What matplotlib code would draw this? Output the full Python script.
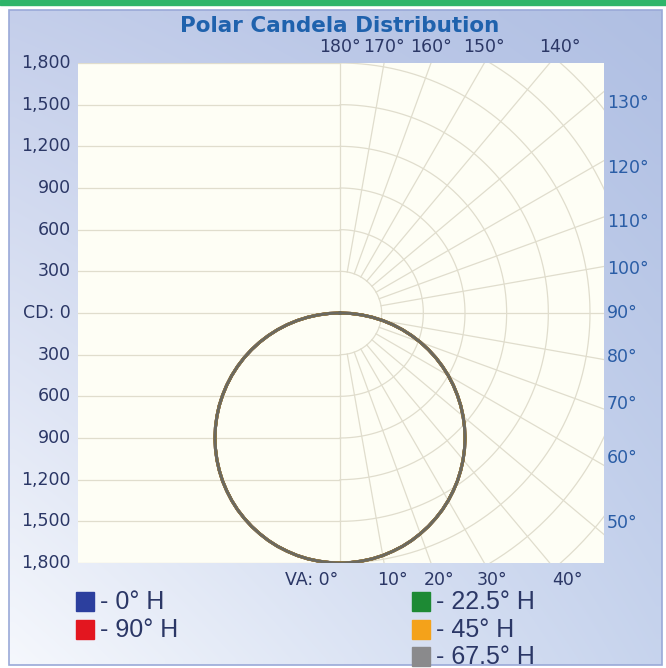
import numpy as np
import matplotlib
matplotlib.use("Agg")
import matplotlib.pyplot as plt
from matplotlib.patches import Rectangle

# ---------------- data ----------------
vertical_angles = [0, 2.5, 5, 7.5, 10, 12.5, 15, 17.5, 20, 22.5, 25, 27.5, 30, 32.5, 35, 37.5,
                   40, 42.5, 45, 47.5, 50, 52.5, 55, 57.5, 60, 62.5, 65, 67.5, 70, 72.5, 75,
                   77.5, 80, 82.5, 85, 87.5, 90, 100, 110, 120, 130, 140, 150, 160, 170, 180]
cd_0H = [1800, 1798, 1793, 1785, 1773, 1757, 1739, 1717, 1691, 1663, 1631, 1597, 1559, 1518,
         1475, 1428, 1379, 1327, 1273, 1216, 1157, 1096, 1032, 967, 900, 831, 761, 689, 616,
         541, 466, 390, 313, 235, 157, 79, 0, 0, 0, 0, 0, 0, 0, 0, 0, 0]
cd_22_5H = [1800, 1798, 1793, 1785, 1773, 1757, 1739, 1717, 1691, 1663, 1631, 1597, 1559, 1518,
            1475, 1428, 1379, 1327, 1273, 1216, 1157, 1096, 1032, 967, 900, 831, 761, 689, 616,
            541, 466, 390, 313, 235, 157, 79, 0, 0, 0, 0, 0, 0, 0, 0, 0, 0]
cd_45H = [1800, 1798, 1793, 1785, 1773, 1757, 1739, 1717, 1691, 1663, 1631, 1597, 1559, 1518,
          1475, 1428, 1379, 1327, 1273, 1216, 1157, 1096, 1032, 967, 900, 831, 761, 689, 616,
          541, 466, 390, 313, 235, 157, 79, 0, 0, 0, 0, 0, 0, 0, 0, 0, 0]
cd_67_5H = [1800, 1798, 1793, 1785, 1773, 1757, 1739, 1717, 1691, 1663, 1631, 1597, 1559, 1518,
            1475, 1428, 1379, 1327, 1273, 1216, 1157, 1096, 1032, 967, 900, 831, 761, 689, 616,
            541, 466, 390, 313, 235, 157, 79, 0, 0, 0, 0, 0, 0, 0, 0, 0, 0]
cd_90H = [1800, 1798, 1793, 1785, 1773, 1757, 1739, 1717, 1691, 1663, 1631, 1597, 1559, 1518,
          1475, 1428, 1379, 1327, 1273, 1216, 1157, 1096, 1032, 967, 900, 831, 761, 689, 616,
          541, 466, 390, 313, 235, 157, 79, 0, 0, 0, 0, 0, 0, 0, 0, 0, 0]

series_labels = ["- 0° H", "- 90° H", "- 22.5° H", "- 45° H", "- 67.5° H"]
series_values = [cd_0H, cd_90H, cd_22_5H, cd_45H, cd_67_5H]
series_colors = ["#2c3f9e", "#e3161f", "#1d8a34", "#f4a21a", "#8a8a8c"]
line_colors = ["#2c3f9e", "#e3161f", "#1d8a34", "#f4a21a", "#6b6960"]

cd_ticks = [1800, 1500, 1200, 900, 600, 300, 0, 300, 600, 900, 1200, 1500, 1800]
cd_tick_values = [1800, 1500, 1200, 900, 600, 300, 0, -300, -600, -900, -1200, -1500, -1800]
right_angle_labels = [130, 120, 110, 100, 90, 80, 70, 60, 50]
top_angle_labels = [180, 170, 160, 150, 140]
bottom_angle_labels = [10, 20, 30, 40]

# ---------------- figure ----------------
W, H = 666, 668
fig = plt.figure(figsize=(W / 100, H / 100), dpi=100)

bg = fig.add_axes([0, 0, 1, 1])
bg.set_xlim(0, W)
bg.set_ylim(H, 0)
bg.axis("off")

bg.add_patch(Rectangle((0, 0), W, 5, color="#2fb56a", zorder=1))
tl = np.array([0.77, 0.81, 0.92])
tr = np.array([0.69, 0.75, 0.89])
bl = np.array([0.96, 0.97, 0.99])
br = np.array([0.78, 0.83, 0.93])
ny, nx = 60, 60
u = np.linspace(0, 1, nx)[None, :, None]
v = np.linspace(0, 1, ny)[:, None, None]
grad = (1 - v) * ((1 - u) * tl + u * tr) + v * ((1 - u) * bl + u * br)
bg.imshow(grad, extent=(9, 662, 665, 10), aspect="auto", interpolation="bilinear", zorder=1)
bg.add_patch(Rectangle((9, 10), 653, 655, fill=False, edgecolor="#9aa9d8", lw=1.2, zorder=2))

# ---------------- polar plot area ----------------
px_left, px_right, px_top, px_bottom = 78, 604, 63, 563
cx, cy = 340, 313
scale = 1800 / (px_bottom - cy)  # candela per pixel
x0 = (px_left - cx) * scale
x1 = (px_right - cx) * scale
ax = fig.add_axes([px_left / W, 1 - px_bottom / H, (px_right - px_left) / W,
                   (px_bottom - px_top) / H])
ax.set_xlim(x0, x1)
ax.set_ylim(-1800, 1800)
ax.set_facecolor("#fefef5")
for s in ax.spines.values():
    s.set_visible(False)
ax.set_xticks([])
ax.set_yticks([])

grid_c = "#e0ddcd"
grid_lw = 0.9
for v_ in cd_tick_values:
    ax.plot([x0, 0], [v_, v_], color=grid_c, lw=grid_lw, zorder=1)
ax.plot([0, 0], [-1800, 1800], color=grid_c, lw=grid_lw, zorder=1)
t = np.linspace(-np.pi / 2, np.pi / 2, 300)
for r in range(300, 3300, 300):
    ax.plot(r * np.cos(t), r * np.sin(t), color=grid_c, lw=grid_lw, zorder=1)
for va in range(10, 180, 10):
    a = np.radians(va)
    ax.plot([300 * np.sin(a), 5000 * np.sin(a)], [-300 * np.cos(a), -5000 * np.cos(a)],
            color=grid_c, lw=grid_lw, zorder=1)

for vals, col in zip(series_values, line_colors):
    th = np.radians(vertical_angles)
    I = np.array(vals, dtype=float)
    xr = I * np.sin(th)
    yr = -I * np.cos(th)
    xs = np.concatenate([-xr[::-1], xr])
    ys = np.concatenate([yr[::-1], yr])
    ax.plot(xs, ys, color=col, lw=2.2, zorder=3, solid_joinstyle="round")

# ---------------- texts ----------------
navy = "#2b3766"
blue = "#2a5da6"
tick_fs = 12.5
bg.text(cx, 26, "Polar Candela Distribution", ha="center", va="center",
        fontsize=15.5, fontweight="bold", color="#1f62ad", family="DejaVu Sans", zorder=5)

for lab, val in zip(cd_ticks, cd_tick_values):
    y = cy - val / scale
    txt = "CD: 0" if val == 0 else f"{lab:,}"
    bg.text(71, y, txt, ha="right", va="center", fontsize=tick_fs, color=navy, zorder=5)

for ang in right_angle_labels:
    a = np.radians(ang)
    dx = px_right - cx
    y = cy - 0.95 * dx * (-np.cos(a)) / np.sin(a)
    bg.text(607, y, f"{ang}°", ha="left", va="center", fontsize=tick_fs, color=blue, zorder=5)

for ang in top_angle_labels:
    a = np.radians(180 - ang)
    x = cx + (cy - px_top) * np.tan(a)
    if ang == 140:
        x += 10
    bg.text(x, 47, f"{ang}°", ha="center", va="center", fontsize=tick_fs, color=navy, zorder=5)

bg.text(cx - 2, 580, "VA: 0°", ha="right", va="center", fontsize=tick_fs, color=navy, zorder=5)
for ang in bottom_angle_labels:
    a = np.radians(ang)
    x = cx + (px_bottom - cy) * np.tan(a) + 8
    if ang == 40:
        x += 10
    bg.text(x, 580, f"{ang}°", ha="center", va="center", fontsize=tick_fs, color=navy, zorder=5)

leg_pos = [(76, 601), (76, 629), (412, 601), (412, 629), (412, 656)]
for (lx, ly), lab, col in zip(leg_pos, series_labels, series_colors):
    bg.add_patch(Rectangle((lx, ly - 9), 18, 19, color=col, zorder=5))
    bg.text(lx + 24, ly + 1, lab, ha="left", va="center", fontsize=18, color=navy,
            family="Liberation Sans", zorder=5)

fig.savefig("out.png", dpi=100)
